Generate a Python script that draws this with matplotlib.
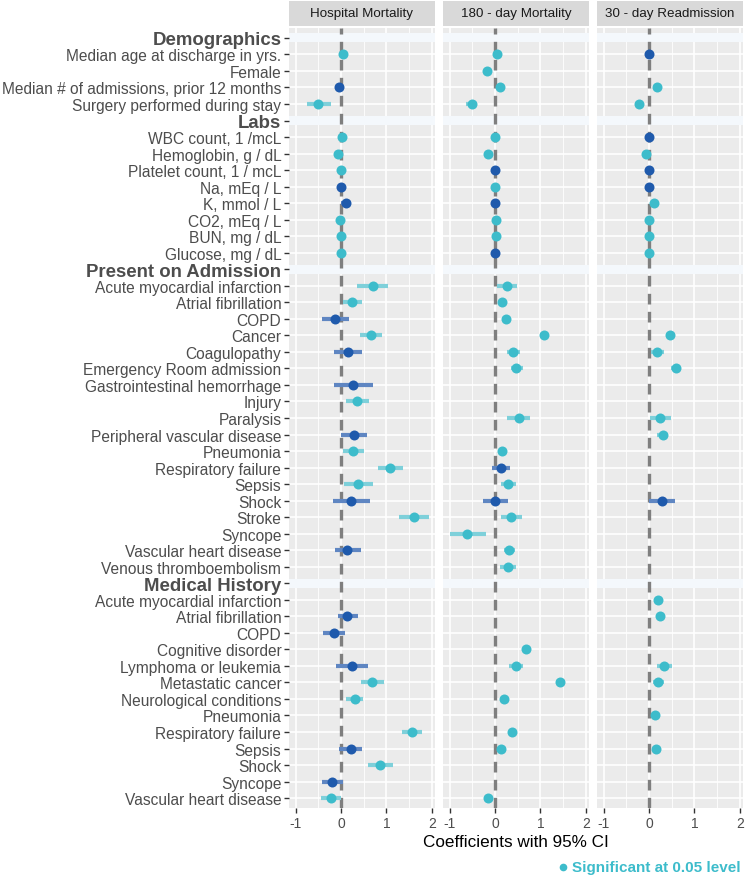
import numpy as np
import matplotlib
matplotlib.use("Agg")
import matplotlib.pyplot as plt
from matplotlib.lines import Line2D

plt.rcParams['font.family'] = ['Liberation Sans', 'DejaVu Sans']
plt.rcParams['axes.unicode_minus'] = False

nan = np.nan

# ---------------- data ----------------
groups = ["Demographics", "Labs", "Present on Admission", "Medical History"]
demo_labels = ["Median age at discharge in yrs.", "Female",
               "Median # of admissions, prior 12 months", "Surgery performed during stay"]
labs_labels = ["WBC count, 1 /mcL", "Hemoglobin, g / dL", "Platelet count, 1 / mcL",
               "Na, mEq / L", "K, mmol / L", "CO2, mEq / L", "BUN, mg / dL", "Glucose, mg / dL"]
poa_labels = ["Acute myocardial infarction", "Atrial fibrillation", "COPD", "Cancer",
              "Coagulopathy", "Emergency Room admission", "Gastrointestinal hemorrhage",
              "Injury", "Paralysis", "Peripheral vascular disease", "Pneumonia",
              "Respiratory failure", "Sepsis", "Shock", "Stroke", "Syncope",
              "Vascular heart disease", "Venous thromboembolism"]
mh_labels = ["Acute myocardial infarction", "Atrial fibrillation", "COPD", "Cognitive disorder",
             "Lymphoma or leukemia", "Metastatic cancer", "Neurological conditions",
             "Pneumonia", "Respiratory failure", "Sepsis", "Shock", "Syncope",
             "Vascular heart disease"]

models = ["Hospital Mortality", "180 - day Mortality", "30 - day Readmission"]

# Hospital mortality (rows in order: demographics, labs, POA, medical history)
hosp_est = [0.03, nan, -0.04, -0.50,
            0.02, -0.06, 0.00, -0.01, 0.10, -0.03, 0.00, 0.00,
            0.70, 0.25, -0.13, 0.65, 0.15, nan, 0.27, 0.36, nan, 0.28, 0.26, 1.08, 0.37, 0.21, 1.60, nan, 0.14, nan,
            nan, 0.14, -0.16, nan, 0.23, 0.69, 0.30, nan, 1.56, 0.21, 0.86, -0.20, -0.23]
hosp_lo = [0.00, nan, -0.07, -0.75,
           0.00, -0.08, -0.02, -0.03, -0.01, -0.05, -0.02, -0.02,
           0.36, 0.03, -0.42, 0.41, -0.15, nan, -0.16, 0.10, nan, 0.00, 0.04, 0.81, 0.06, -0.18, 1.28, nan, -0.14, nan,
           nan, -0.07, -0.41, nan, -0.12, 0.43, 0.10, nan, 1.35, -0.04, 0.59, -0.42, -0.44]
hosp_hi = [0.06, nan, -0.01, -0.22,
           0.04, -0.04, 0.02, 0.01, 0.22, -0.01, 0.02, 0.02,
           1.04, 0.47, 0.17, 0.90, 0.45, nan, 0.70, 0.62, nan, 0.56, 0.50, 1.36, 0.70, 0.63, 1.93, nan, 0.43, nan,
           nan, 0.38, 0.09, nan, 0.59, 0.94, 0.48, nan, 1.79, 0.47, 1.14, 0.03, -0.01]
hosp_sig = [1, 0, 0, 1,
            1, 1, 1, 0, 0, 1, 1, 1,
            1, 1, 0, 1, 0, 0, 0, 1, 0, 0, 1, 1, 1, 0, 1, 0, 0, 0,
            0, 0, 0, 0, 0, 1, 1, 0, 1, 0, 1, 0, 1]

# 180-day mortality
d180_est = [0.05, -0.17, 0.11, -0.52,
            0.00, -0.15, 0.00, 0.00, 0.00, 0.02, 0.01, 0.00,
            0.26, 0.15, 0.24, 1.07, 0.40, 0.47, nan, nan, 0.52, nan, 0.15, 0.13, 0.29, 0.00, 0.36, -0.61, 0.30, 0.28,
            nan, nan, nan, 0.68, 0.45, 1.44, 0.20, nan, 0.38, 0.13, nan, nan, -0.16]
d180_lo = [0.02, -0.20, 0.08, -0.64,
           -0.02, -0.17, -0.02, -0.02, -0.02, 0.00, -0.01, -0.02,
           0.04, 0.09, 0.16, 0.99, 0.26, 0.36, nan, nan, 0.27, nan, 0.08, -0.07, 0.12, -0.27, 0.13, -1.00, 0.19, 0.11,
           nan, nan, nan, 0.62, 0.30, 1.34, 0.14, nan, 0.30, 0.03, nan, nan, -0.20]
d180_hi = [0.08, -0.14, 0.14, -0.40,
           0.02, -0.13, 0.02, 0.02, 0.02, 0.04, 0.03, 0.02,
           0.48, 0.21, 0.32, 1.15, 0.54, 0.61, nan, nan, 0.77, nan, 0.22, 0.33, 0.47, 0.28, 0.59, -0.21, 0.44, 0.46,
           nan, nan, nan, 0.74, 0.61, 1.54, 0.26, nan, 0.46, 0.25, nan, nan, -0.12]
d180_sig = [1, 1, 1, 1,
            1, 1, 0, 1, 0, 1, 1, 0,
            1, 1, 1, 1, 1, 1, 0, 0, 1, 0, 1, 0, 1, 0, 1, 1, 1, 1,
            0, 0, 0, 1, 1, 1, 1, 0, 1, 1, 0, 0, 1]

# 30-day readmission
r30_est = [0.00, nan, 0.18, -0.23,
           0.00, -0.07, 0.00, 0.00, 0.10, 0.00, 0.00, 0.00,
           nan, nan, nan, 0.47, 0.18, 0.59, nan, nan, 0.25, 0.30, nan, nan, nan, 0.28, nan, nan, nan, nan,
           0.19, 0.24, nan, nan, 0.33, 0.19, nan, 0.13, nan, 0.15, nan, nan, nan]
r30_lo = [-0.02, nan, 0.15, -0.32,
          -0.02, -0.09, -0.02, -0.02, 0.07, -0.02, -0.02, -0.02,
          nan, nan, nan, 0.37, 0.04, 0.49, nan, nan, 0.02, 0.17, nan, nan, nan, 0.00, nan, nan, nan, nan,
          0.13, 0.19, nan, nan, 0.18, 0.08, nan, 0.09, nan, 0.08, nan, nan, nan]
r30_hi = [0.02, nan, 0.21, -0.14,
          0.02, -0.05, 0.02, 0.02, 0.13, 0.02, 0.02, 0.02,
          nan, nan, nan, 0.57, 0.33, 0.69, nan, nan, 0.49, 0.41, nan, nan, nan, 0.56, nan, nan, nan, nan,
          0.25, 0.29, nan, nan, 0.50, 0.33, nan, 0.17, nan, 0.22, nan, nan, nan]
r30_sig = [0, 0, 1, 1,
           0, 1, 0, 0, 1, 1, 1, 1,
           0, 0, 0, 1, 1, 1, 0, 0, 1, 1, 0, 0, 0, 0, 0, 0, 0, 0,
           1, 1, 0, 0, 1, 1, 0, 1, 0, 1, 0, 0, 0]

x_ticks = [-1, 0, 1, 2]

# ---------------- layout ----------------
W, H = 746, 878
fig = plt.figure(figsize=(W / 100, H / 100), dpi=100)
fig.patch.set_facecolor("white")

TEAL = "#3DBCCB"
DARK = "#1F5AAC"
TEAL_CI = "#7ED0DA"
DARK_CI = "#5F86C2"
PANEL = "#EBEBEB"
HEADBAND = "#F4F8FC"
TXT = "#4D4D4D"

# build row structure
row_labels, row_is_header = [], []
for g, labs in zip(groups, [demo_labels, labs_labels, poa_labels, mh_labels]):
    row_labels.append(g)
    row_is_header.append(True)
    for l in labs:
        row_labels.append(l)
        row_is_header.append(False)
item_rows = [i for i, h in enumerate(row_is_header) if not h]
header_rows = [i for i, h in enumerate(row_is_header) if h]
n_rows = len(row_labels)

panel_left = [289, 443, 597]
panel_w = 146
p_top, p_bot = 29, 809
s_top = 2

data = [(hosp_est, hosp_lo, hosp_hi, hosp_sig),
        (d180_est, d180_lo, d180_hi, d180_sig),
        (r30_est, r30_lo, r30_hi, r30_sig)]

for k, (name, (est, lo, hi, sig)) in enumerate(zip(models, data)):
    L = panel_left[k]
    ax = fig.add_axes([L / W, (H - p_bot) / H, panel_w / W, (p_bot - p_top) / H])
    ax.set_facecolor(PANEL)
    ax.set_xlim(-1.15, 2.07)
    ax.set_ylim(n_rows - 1 + 0.6, -0.6)
    for sp in ax.spines.values():
        sp.set_visible(False)
    # grid
    for xv in [-0.5, 0.5, 1.5]:
        ax.axvline(xv, color="white", lw=0.6, zorder=1)
    for xv in x_ticks:
        ax.axvline(xv, color="white", lw=1.2, zorder=1)
    for r in range(n_rows):
        ax.axhline(r, color="white", lw=1.2, zorder=1)
    for r in header_rows:
        ax.axhspan(r - 0.27, r + 0.27, color=HEADBAND, lw=0, zorder=1.5)
    # zero line
    ax.axvline(0, color="#7F7F7F", lw=2.4, ls=(0, (3.2, 2.2)), zorder=2)
    # CI and points
    for j, r in enumerate(item_rows):
        e = est[j]
        if np.isnan(e):
            continue
        c_pt = TEAL if sig[j] else DARK
        c_ci = TEAL_CI if sig[j] else DARK_CI
        ax.plot([lo[j], hi[j]], [r, r], color=c_ci, lw=3.0, solid_capstyle="butt", zorder=3)
        ax.plot([e], [r], "o", color=c_pt, ms=7.2, mec="none", zorder=4)
    ax.set_xticks(x_ticks)
    ax.set_xticklabels([str(t) for t in x_ticks], color=TXT, fontsize=10)
    ax.tick_params(axis="x", length=3.5, color="#333333", width=1, pad=2)
    if k == 0:
        ax.set_yticks(range(n_rows))
        ax.set_yticklabels(row_labels)
        for lab, h in zip(ax.get_yticklabels(), row_is_header):
            if h:
                lab.set_fontweight("bold")
                lab.set_fontsize(13.4)
            else:
                lab.set_fontsize(11.2)
            lab.set_color(TXT)
        ax.tick_params(axis="y", length=3.5, color="#333333", width=1, pad=2)
    else:
        ax.set_yticks([])
    # strip
    sax = fig.add_axes([L / W, (H - p_top + 2) / H, panel_w / W, (p_top - 2 - s_top) / H])
    sax.set_facecolor("#D9D9D9")
    sax.set_xticks([])
    sax.set_yticks([])
    for sp in sax.spines.values():
        sp.set_visible(False)
    sax.text(0.5, 0.5, name, ha="center", va="center", fontsize=9.6, color="#1A1A1A",
             transform=sax.transAxes)

# axis title
fig.text(516 / W, 1 - 843 / H, "Coefficients with 95% CI", ha="center", va="center",
         fontsize=12.3, color="black")
# legend
fig.lines.append(Line2D([563 / W], [1 - 868 / H], marker="o", color=TEAL, ms=5.5, mec="none",
                        transform=fig.transFigure))
fig.text(572 / W, 1 - 868 / H, "Significant at 0.05 level", ha="left", va="center",
         fontsize=11, color=TEAL, fontweight="bold")

fig.savefig("out.png", dpi=100)
